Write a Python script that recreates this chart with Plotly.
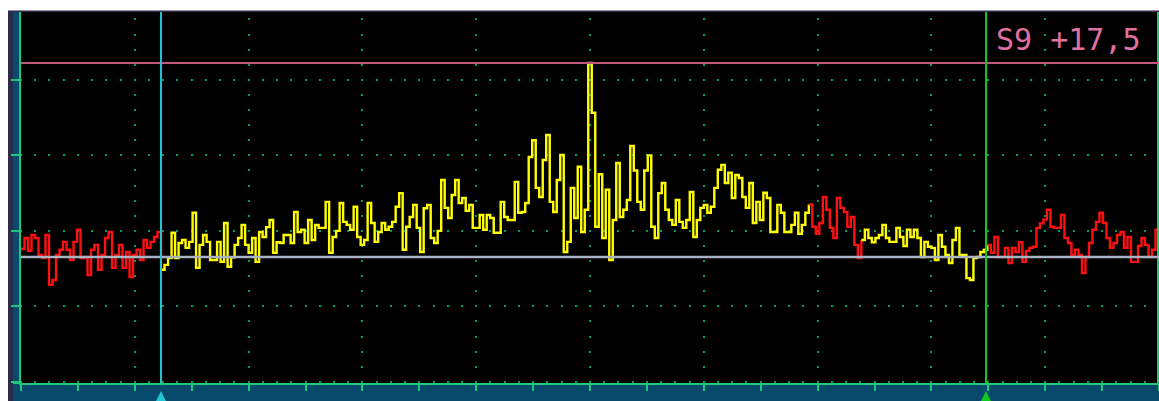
import plotly.graph_objects as go

# ---------------- data ----------------
F_START_HZ = -5000          # left edge of the span (audio offset, Hz)
F_STOP_HZ = 5000            # right edge of the span
Y_MIN_DB, Y_MAX_DB = -140.3, -42.0

# spectrum levels per FFT bin (dBm), left to right
LEVELS_1 = [-104.8, -101.9, -105.3, -101.1, -101.9, -106.4, -107.2, -101.1, -114.3, -113.0,
            -106.4, -105.0, -102.9, -105.0, -107.7, -102.9, -99.7, -107.2, -106.9, -111.7,
            -105.0, -103.7, -110.3, -106.4, -101.9, -100.3, -109.8, -106.4, -103.7, -109.8,
            -105.6, -112.2, -106.4, -105.0, -107.7, -102.4, -104.5, -102.9, -101.6, -100.3]
LEVELS_2 = [-110.3, -109.0, -107.2, -100.5, -107.2, -103.2, -102.4, -104.5, -102.9, -95.2,
            -109.8, -103.7, -101.1, -102.9, -107.7]
LEVELS_3 = [-107.7, -102.9, -108.2, -97.9, -109.5, -107.0, -103.7, -101.9, -98.4, -103.7,
            -105.8, -101.9, -108.2, -100.3, -101.6, -99.0, -97.1, -105.8, -103.0, -103.2,
            -101.1, -101.1, -103.2, -95.0, -100.3, -99.7, -103.2, -97.1, -102.4, -98.4,
            -99.2, -99.2, -92.3, -105.8, -101.6, -100.0, -92.6, -97.6, -98.4, -99.7,
            -93.6, -101.6, -103.7, -102.4, -92.6, -97.9, -102.9, -100.3, -97.9, -99.7,
            -98.9, -97.6, -93.6, -90.0, -105.0, -98.9]
LEVELS_4 = [-96.3, -93.1, -99.2, -105.6, -94.0, -93.1, -101.9, -103.2, -100.0, -86.5,
            -93.9, -96.6, -90.5, -86.5, -92.6, -91.3, -94.7, -93.1, -99.2, -99.2,
            -95.8, -99.7, -95.8, -96.6, -100.5, -100.5, -92.3, -96.3, -97.1, -97.1,
            -87.0, -95.2, -95.0, -92.6, -80.4, -76.0, -88.6, -91.0, -81.2, -74.6,
            -92.3, -95.0, -86.5, -79.9, -105.6, -102.9, -88.6, -96.6, -83.0, -100.3,
            -94.4, -55.5, -68.7, -98.9, -85.0, -101.9]
LEVELS_5 = [-89.1, -107.7, -97.1, -82.0, -96.3, -94.4, -91.8, -77.5, -84.0, -92.3,
            -94.4, -84.0, -80.0, -98.9, -101.9, -90.0, -87.3, -94.4, -97.1, -98.4,
            -91.8, -97.6, -99.2, -97.1, -89.7, -101.6, -97.1, -93.9, -93.1, -95.2,
            -93.6, -88.6, -83.8, -82.5, -87.3, -84.6, -91.3, -85.2, -86.0, -91.0,
            -93.9, -87.3, -97.9, -92.3, -97.1, -89.9, -91.3, -100.3, -100.3, -93.1,
            -95.2, -100.3, -100.3, -98.4]
LEVELS_6 = [-95.2, -100.8, -98.4, -95.2, -93.0, -98.9, -100.8, -97.9, -91.0, -94.4,
            -99.2, -101.9, -91.3, -93.9, -95.0, -98.9, -96.3, -103.7, -107.2, -102.4,
            -99.7, -101.9, -103.0, -101.9, -101.1, -98.4, -101.9, -102.9, -102.9, -99.2,
            -101.6, -104.0, -99.7, -101.6, -99.7, -101.9, -106.9, -102.9, -104.2, -104.5,
            -107.7, -101.1, -104.2, -106.4, -108.5, -102.4, -99.2, -106.4, -106.4, -112.5,
            -113.0, -107.2, -106.9, -105.6, -105.0]
LEVELS_7 = [-103.7, -105.8, -101.6, -106.9, -106.9, -104.5, -108.5, -104.5, -105.6, -103.0,
            -108.2, -105.3, -104.5, -104.2, -99.2, -98.0, -97.0, -94.4, -98.9, -99.2,
            -99.2, -95.8, -101.9, -103.2, -106.4, -105.0, -106.4, -111.2, -106.9, -103.2,
            -99.7, -97.6, -95.2, -97.9, -101.9, -104.5, -103.2, -101.1, -100.3, -104.5,
            -101.6, -108.2, -108.2, -104.0, -101.9, -103.7, -106.9, -105.0, -99.7]
LEVELS_DB = LEVELS_1 + LEVELS_2 + LEVELS_3 + LEVELS_4 + LEVELS_5 + LEVELS_6 + LEVELS_7

# bin index boundaries of the coloured runs and whether each run is inside the filter
SEGMENT_BOUNDS = [0, 40, 225, 240, 276, len(LEVELS_DB)]
SEGMENT_INSIDE = [False, True, False, True, False]

CURSOR_LOW_HZ = -3770
CURSOR_HIGH_HZ = 3480
PEAK_DB = -55.5
NOISE_DB = -106.9
READOUT = "S9 +17,5"

# ---------------- styling / layout ----------------
W, H = 1159, 401
M_L, M_R, M_T, M_B = 21, 0, 12, 18
PW, PH = W - M_L - M_R, H - M_T - M_B


def px_x(px):
    return (px - M_L) / PW


def px_y(py):
    return (H - M_B - py) / PH


AXIS_GREEN = "#1ec878"
GRID_GREEN = "#00a05a"
CYAN = "#22c4d6"
CURSOR_GREEN = "#10c820"
TEAL = "#074a6c"
BORDER = "#2b2b4b"
COL_IN = "#ffff00"
COL_OUT = "#ff1010"

n = len(LEVELS_DB)
bin_hz = (F_STOP_HZ - F_START_HZ) / n
edges = [F_START_HZ + i * bin_hz for i in range(n + 1)]

fig = go.Figure()
for k in range(len(SEGMENT_INSIDE)):
    a, b = SEGMENT_BOUNDS[k], SEGMENT_BOUNDS[k + 1]
    xs = edges[a:b + 1]
    ys = LEVELS_DB[a:b] + [LEVELS_DB[b] if b < n else LEVELS_DB[b - 1]]
    fig.add_trace(go.Scatter(
        x=xs, y=ys, mode="lines", line_shape="hv",
        line=dict(color=COL_IN if SEGMENT_INSIDE[k] else COL_OUT, width=2.4),
        hoverinfo="skip", showlegend=False))

shapes = [
    # left frame: dark border + teal strip
    dict(type="rect", xref="paper", yref="paper", x0=px_x(8), x1=px_x(13), y0=px_y(H), y1=px_y(11),
         fillcolor=BORDER, line_width=0, layer="below"),
    dict(type="rect", xref="paper", yref="paper", x0=px_x(13), x1=px_x(19), y0=px_y(H), y1=px_y(12),
         fillcolor=TEAL, line_width=0, layer="below"),
    # top border
    dict(type="rect", xref="paper", yref="paper", x0=px_x(8), x1=1.0, y0=px_y(12), y1=px_y(10.5),
         fillcolor=BORDER, line_width=0, layer="below"),
    # bottom band
    dict(type="rect", xref="paper", yref="paper", x0=px_x(13), x1=1.0, y0=px_y(H), y1=0,
         fillcolor=TEAL, line_width=0, layer="below"),
    # extension of the bottom axis line to the left
    dict(type="line", xref="paper", yref="paper", x0=px_x(13), x1=0, y0=0, y1=0,
         line=dict(color=AXIS_GREEN, width=2), layer="above"),
    # right border
    dict(type="line", xref="paper", yref="paper", x0=px_x(1158), x1=px_x(1158), y0=0, y1=1,
         line=dict(color=AXIS_GREEN, width=2), layer="above"),
    # reference levels
    dict(type="line", xref="paper", yref="y", x0=0, x1=1, y0=NOISE_DB, y1=NOISE_DB,
         line=dict(color="#aab3c4", width=2.5), layer="above"),
    dict(type="line", xref="paper", yref="y", x0=0, x1=1, y0=PEAK_DB, y1=PEAK_DB,
         line=dict(color="#c4567f", width=2), layer="above"),
    # filter cursors
    dict(type="line", xref="x", yref="paper", x0=CURSOR_LOW_HZ, x1=CURSOR_LOW_HZ, y0=0, y1=1,
         line=dict(color=CYAN, width=2), layer="above"),
    dict(type="line", xref="x", yref="paper", x0=CURSOR_HIGH_HZ, x1=CURSOR_HIGH_HZ, y0=0, y1=1,
         line=dict(color=CURSOR_GREEN, width=2), layer="above"),
]

annotations = [
    dict(text=READOUT, xref="paper", yref="paper", x=px_x(1142), y=px_y(21),
         xanchor="right", yanchor="top", showarrow=False, borderpad=0,
         font=dict(family="DejaVu Sans Mono", size=30, color="#e070a0")),
]
for fx, col in ((CURSOR_LOW_HZ, CYAN), (CURSOR_HIGH_HZ, CURSOR_GREEN)):
    annotations.append(dict(text="", xref="x", yref="paper", x=fx, y=px_y(391),
                            showarrow=True, ax=0, ay=13, arrowhead=2, arrowsize=1.1,
                            arrowwidth=2, arrowcolor=col, standoff=0))

fig.update_layout(
    width=W, height=H,
    margin=dict(l=M_L, r=M_R, t=M_T, b=M_B, pad=0),
    paper_bgcolor="white", plot_bgcolor="black",
    shapes=shapes, annotations=annotations,
    xaxis=dict(range=[F_START_HZ, F_STOP_HZ], showticklabels=False, zeroline=False,
               showline=True, linecolor=AXIS_GREEN, linewidth=2,
               tick0=F_START_HZ, dtick=1000, ticks="outside", ticklen=6, tickwidth=2,
               tickcolor=AXIS_GREEN,
               showgrid=True, gridcolor=GRID_GREEN, gridwidth=2, griddash="0px,6.4px,2px,6.7px",
               minor=dict(dtick=500, tick0=F_START_HZ, ticks="outside", ticklen=6, tickwidth=2,
                          tickcolor=AXIS_GREEN, showgrid=False),
               fixedrange=True),
    yaxis=dict(range=[Y_MIN_DB, Y_MAX_DB], showticklabels=False, zeroline=False,
               showline=True, linecolor=AXIS_GREEN, linewidth=2,
               tick0=-140, dtick=20, ticks="outside", ticklen=8, tickwidth=2,
               tickcolor=AXIS_GREEN,
               showgrid=True, gridcolor=GRID_GREEN, gridwidth=2, griddash="1px,12.225px,1px,0px",
               fixedrange=True),
)

fig.write_html("out.html", config={"displayModeBar": False, "staticPlot": True},
               post_script="document.body.style.margin='0';document.body.style.overflow='hidden';")
